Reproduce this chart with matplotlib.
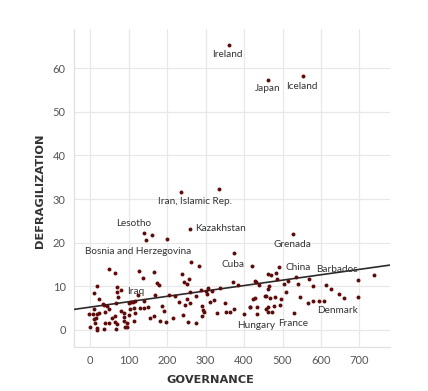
import numpy as np
import matplotlib
matplotlib.use("Agg")
import matplotlib.pyplot as plt

plt.rcParams['font.family'] = ['Lato', 'DejaVu Sans']

# governance / defragilization values
governance = [
    360, 463, 552, 236, 336,
    141, 160, 145, 199, 259, 526, 375, 492,
    50, 65, 126, 137, 167, 175, 178,
    18, 10, 23, 70, 71, 80, 73, 68,
    33, 36, 45, 48, 9, 7, -2, 22, 18,
    16, 11, 14, 17, 18, -1, 36, 38, 48,
    39, 58, 66, 64, 69, 68, 80, 89, 87,
    89, 95, 91, 97, 104, 102, 106, 111, 116,
    115, 116, 114, 100, 130, 139, 150, 139, 124,
    156, 166, 169, 188, 193, 182, 196, 206, 220,
    216, 238, 243, 251, 258, 262, 242, 255,
    247, 230, 251, 259, 275, 260, 276, 284, 289,
    291, 293, 296, 290, 301, 305, 311,
    318, 307, 331,
    322, 338, 351, 354, 363, 375, 372, 384, 400,
    415, 420, 424, 428, 431, 428, 435, 433, 440,
    454, 458, 456, 461, 465, 468, 462, 461, 469,
    473, 478, 483, 485, 481, 494, 495, 504, 508,
    513, 531, 534, 539, 546, 567, 569, 578, 580,
    594, 609, 613, 627, 648, 660, 696, 696, 738,
    461, 416,
]
defragilization = [
    65.3, 57.4, 58.2, 31.7, 32.4,
    22.2, 21.8, 20.6, 20.8, 23.2, 21.9, 17.6, 14.5,
    14.0, 13.1, 13.5, 12.0, 13.4, 10.7, 10.4,
    10.1, 8.4, 7.1, 9.9, 8.8, 9.1, 7.6, 6.3,
    5.9, 5.7, 5.4, 4.8, 4.7, 3.7, 3.7, 4.0, 3.6,
    2.8, 2.6, 1.5, 0.5, 0.1, 0.8, 0.2, 1.6, 1.6,
    4.1, 2.7, 3.3, 1.9, 1.3, 0.2, 4.4, 3.8, 2.9,
    2.0, 1.6, 0.8, 0.6, 4.7, 6.2, 6.4, 6.5, 6.6,
    5.0, 4.0, 2.0, 3.4, 5.1, 5.1, 5.2, 6.7, 8.0,
    2.8, 3.1, 8.0, 5.4, 4.3, 2.1, 1.9, 8.0, 7.8,
    2.7, 12.8, 11.0, 10.6, 11.8, 15.5, 3.4, 1.9,
    5.7, 6.4, 7.1, 6.3, 1.6, 8.8, 7.7, 14.7, 9.1,
    5.5, 4.6, 4.2, 3.2, 9.0, 8.2, 6.5,
    9.0, 9.7, 4.0,
    6.9, 9.6, 6.2, 4.1, 4.1, 4.8, 10.9, 10.3, 3.7,
    5.2, 14.7, 7.0, 11.2, 11.0, 7.3, 5.2, 3.7, 10.3,
    7.7, 7.8, 4.8, 9.4, 10.0, 7.4, 5.2, 4.1, 12.5,
    4.1, 5.4, 13.0, 11.8, 7.6, 5.7, 7.2, 10.6, 8.6,
    11.3, 4.0, 12.2, 10.6, 7.6, 6.3, 11.6, 10.1, 6.6,
    6.7, 6.7, 10.3, 9.5, 8.3, 7.3, 11.4, 7.6, 12.5,
    12.8, 5.2,
]

# country labels: text, x, y, alignment
label_names = ["Ireland", "Japan", "Iceland", "Iran, Islamic Rep.", "Lesotho",
               "Kazakhstan", "Bosnia and Herzegovina", "Grenada", "Cuba", "China",
               "Barbados", "Iraq", "Denmark", "Hungary", "France"]
label_x = [358, 462, 551, 273, 114, 273, 125, 525, 371, 508, 642, 119, 644, 431, 527]
label_y = [63.1, 55.3, 55.7, 29.4, 24.3, 23.2, 17.9, 19.5, 15.1, 14.3, 13.8, 8.9, 4.4, 1.1, 1.4]
label_ha = ["center", "center", "center", "center", "center", "left", "center",
            "center", "center", "left", "center", "center", "center", "center", "center"]

x_ticks = [0, 100, 200, 300, 400, 500, 600, 700]
y_ticks = [0, 10, 20, 30, 40, 50, 60]

fig = plt.figure(figsize=(4.28, 3.91), dpi=100)
ax = fig.add_axes([0.173, 0.1125, 0.738, 0.8135])

x = np.array(governance, dtype=float)
y = np.array(defragilization, dtype=float)

ax.set_xlim(-41.6, 779)
ax.set_ylim(-3.9, 69)
ax.set_xticks(x_ticks)
ax.set_yticks(y_ticks)

ax.grid(True, color="#e8e8e8", linewidth=0.9, zorder=0)
ax.axvline(0, color="#888888", linestyle=(0, (1, 1.5)), linewidth=0.7, zorder=1)
ax.axhline(0, color="#888888", linestyle=(0, (1, 1.5)), linewidth=0.7, zorder=1)

# linear trend line
slope, intercept = np.polyfit(x, y, 1)
xs = np.array(ax.get_xlim())
ax.plot(xs, intercept + slope * xs, color="#2b2b2b", linewidth=1.2, zorder=3)

ax.scatter(x, y, s=8, color="#5e0b0b", marker="o", linewidths=0, zorder=4)

for name, lx, ly, ha in zip(label_names, label_x, label_y, label_ha):
    ax.text(lx, ly, name, ha=ha, va="center", fontsize=7.2, color="#333333", zorder=5)

for side in ["top", "right"]:
    ax.spines[side].set_visible(False)
for side in ["left", "bottom"]:
    ax.spines[side].set_color("#e0e0e0")
    ax.spines[side].set_linewidth(0.9)

ax.tick_params(length=0, labelsize=8, labelcolor="#555555", pad=6)
ax.set_xlabel("GOVERNANCE", fontsize=8.2, fontweight="bold", color="#333333",
              family="DejaVu Sans", va="center")
ax.set_ylabel("DEFRAGILIZATION", fontsize=8.2, fontweight="bold", color="#333333",
              family="DejaVu Sans", va="center")
ax.xaxis.set_label_coords(0.43, -0.104)
ax.yaxis.set_label_coords(-0.108, 0.49)

fig.savefig("out.png", dpi=100)
